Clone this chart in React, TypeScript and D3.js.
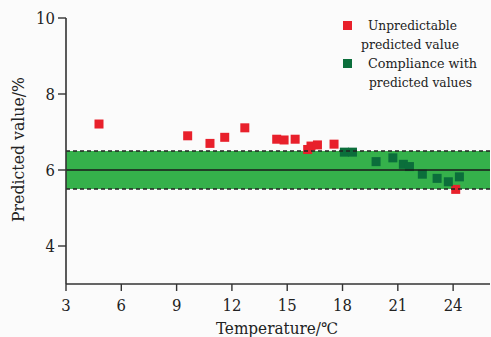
import React from "react";
import * as d3 from "d3";

const redX = [4.79, 9.6, 10.81, 11.61, 12.7, 14.43, 14.83, 15.43, 16.11, 16.29, 16.64, 17.54, 24.14];
const redY = [7.21, 6.9, 6.7, 6.86, 7.11, 6.81, 6.79, 6.81, 6.54, 6.63, 6.66, 6.68, 5.49];
const greenX = [18.1, 18.54, 19.82, 20.73, 21.3, 21.63, 22.33, 23.13, 23.74, 24.34];
const greenY = [6.47, 6.47, 6.22, 6.32, 6.15, 6.09, 5.89, 5.78, 5.69, 5.82];
const xTicks = [3, 6, 9, 12, 15, 18, 21, 24];
const yTicks = [4, 6, 8, 10];
const bandLow = 5.5;
const bandHigh = 6.5;
const bandMid = 6.0;
const legendLabels = [["Unpredictable", "predicted value"], ["Compliance with", "predicted values"]];

const W = 491, H = 337;
const FONT = "'DejaVu Serif Condensed', 'DejaVu Serif', serif";

export default function App() {
  const x = d3.scaleLinear().domain([3, 26]).range([66, 490]);
  const y = d3.scaleLinear().domain([3, 10]).range([284, 18]);
  const ms = 9;
  const red = "#e8202b";
  const green = "#0b6e3b";
  const band = "#35b14b";
  const axisColor = "#333";
  const ts = { fontFamily: FONT };
  const la = "spacingAndGlyphs";
  return (
    <svg width={W} height={H} style={{ position: "absolute", left: 0, top: 0, background: "#fbfbfb", fontFamily: FONT }}>
      <rect x={0} y={0} width={W} height={H} fill="#fbfbfb" />
      <rect x={x(3)} y={y(bandHigh)} width={x(26) - x(3)} height={y(bandLow) - y(bandHigh)} fill={band} />
      {redX.map((v, i) => (
        <rect key={"r" + i} x={x(v) - ms / 2} y={y(redY[i]) - ms / 2} width={ms} height={ms} fill={red} />
      ))}
      {greenX.map((v, i) => (
        <rect key={"g" + i} x={x(v) - ms / 2} y={y(greenY[i]) - ms / 2} width={ms} height={ms} fill={green} />
      ))}
      <line x1={x(3)} x2={x(26)} y1={y(bandMid)} y2={y(bandMid)} stroke="#1a1a1a" strokeWidth={1.6} />
      <line x1={x(3)} x2={x(26)} y1={y(bandHigh)} y2={y(bandHigh)} stroke="#222" strokeWidth={1.6} strokeDasharray="4,3" />
      <line x1={x(3)} x2={x(26)} y1={y(bandLow)} y2={y(bandLow)} stroke="#222" strokeWidth={1.6} strokeDasharray="4,3" />
      <line x1={x(3)} x2={x(3)} y1={y(10)} y2={y(3)} stroke={axisColor} strokeWidth={1.6} />
      <line x1={x(3)} x2={x(26)} y1={y(3)} y2={y(3)} stroke={axisColor} strokeWidth={1.6} />
      {yTicks.map((t) => (
        <g key={"yt" + t}>
          <line x1={x(3) - 8} x2={x(3)} y1={y(t)} y2={y(t)} stroke={axisColor} strokeWidth={1.4} />
          <text x={x(3) - 11} y={y(t)} dy="0.36em" textAnchor="end" fontSize={16.5} fill="#222" style={ts}>{t}</text>
        </g>
      ))}
      {xTicks.map((t) => (
        <g key={"xt" + t}>
          <line x1={x(t)} x2={x(t)} y1={y(3)} y2={y(3) + 7} stroke={axisColor} strokeWidth={1.4} />
          <text x={x(t)} y={y(3) + 27} textAnchor="middle" fontSize={16.5} fill="#222" style={ts}>{t}</text>
        </g>
      ))}
      <text x={216} y={334} fontSize={16} fill="#222" style={ts} textLength={122} lengthAdjust={la}>Temperature/℃</text>
      <text transform={`translate(24,222) rotate(-90)`} fontSize={16} fill="#222" style={ts} textLength={145} lengthAdjust={la}>Predicted value/%</text>
      <rect x={343} y={21} width={9} height={9} fill={red} />
      <text x={368} y={30} fontSize={13.5} fill="#222" style={ts} textLength={89} lengthAdjust={la}>{legendLabels[0][0]}</text>
      <text x={361} y={49} fontSize={13.5} fill="#222" style={ts} textLength={98} lengthAdjust={la}>{legendLabels[0][1]}</text>
      <rect x={343} y={59} width={9} height={9} fill={green} />
      <text x={368} y={68} fontSize={13.5} fill="#222" style={ts} textLength={109} lengthAdjust={la}>{legendLabels[1][0]}</text>
      <text x={369} y={87} fontSize={13.5} fill="#222" style={ts} textLength={103} lengthAdjust={la}>{legendLabels[1][1]}</text>
    </svg>
  );
}
